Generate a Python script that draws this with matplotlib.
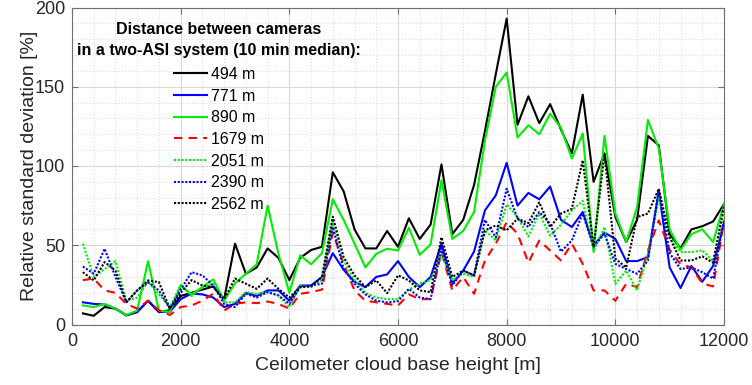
import numpy as np
import matplotlib
matplotlib.use("Agg")
import matplotlib.pyplot as plt
from matplotlib.ticker import MultipleLocator

plt.rcParams['font.family'] = ['Liberation Sans', 'DejaVu Sans']

# cloud base height classes [m]
height = list(range(200, 12001, 200))

# relative standard deviation [%] per camera distance
d494 = [7, 5.5, 11, 10, 5.7, 7.8, 15, 7.8, 9, 18, 20, 22, 24, 16, 51, 32, 36, 48, 42, 28,
        42, 47, 49, 96, 84, 60, 48, 48, 59, 49, 67, 54, 63, 101, 57, 66, 88, 122, 158, 193,
        126, 144, 127, 139, 123, 108, 145, 90, 108, 68, 52, 66, 119, 113, 57, 48, 60, 62, 65, 76]
d771 = [14, 13, 12.6, 10, 6, 8, 15, 8, 8, 16, 19.5, 19, 17, 11, 13, 20, 18, 21.5, 21.5, 15,
        24.6, 24.6, 30, 45, 34.5, 27, 23.6, 30, 31.6, 40, 30, 23.6, 30, 51, 26, 34, 46, 72, 81.5, 102,
        75, 83, 79, 87, 66, 61.5, 71, 50, 58, 54, 40, 40, 42.5, 84, 36, 23, 37, 27, 37, 64]
d890 = [12, 11, 13, 10, 6, 8.8, 40, 8.8, 7.8, 24.6, 19, 23.6, 28.5, 15, 26, 32, 38, 75, 44.6, 20,
        43.6, 38, 45, 79, 66, 51, 36, 44.6, 47.8, 46.7, 61, 44, 50.5, 91, 54, 59, 71, 116, 150, 159,
        118, 125.7, 120, 133, 124, 104.7, 120.5, 45.7, 119, 70, 52, 74, 129, 111, 60, 47, 57, 60, 52, 76]
d1679 = [28, 29, 21.5, 20, 13, 10, 15, 9, 6, 11, 12, 15, 19.4, 8.8, 13, 14, 13.5, 14.5, 13, 10,
         19.4, 20.4, 22, 58, 38, 21.5, 15, 14, 13, 12, 19, 16, 16, 45.7, 21.5, 30, 19.4, 40.4, 51, 64.6,
         57.3, 39, 53, 46.7, 40.4, 51, 38.3, 21.5, 21.5, 15, 25.7, 23.6, 46.7, 65.7, 47, 38, 36, 26, 24, 65]
d2051 = [51, 30, 35, 40, 15, 17, 27, 19, 11, 25, 18, 23.6, 25.7, 14, 14, 20.4, 19.4, 20.4, 18.3, 11,
         24.6, 23.6, 28, 65, 40, 28, 20, 17, 16, 16, 22, 26, 28, 44, 28, 32, 30, 59.4, 53, 75.8,
         67.8, 55.6, 70, 56, 63, 72, 78, 46.7, 61.5, 25.7, 34, 21.5, 44.6, 80, 55, 45.7, 45.7, 46.8, 40, 71]
d2390 = [36.6, 32, 47.8, 30, 14, 21.5, 26.7, 21.5, 10, 22, 33, 31, 24.6, 13, 11, 19.4, 17, 20.4, 18.3, 13,
         23.6, 24.6, 25.7, 61.5, 35, 25.7, 19, 15, 14, 14.7, 22.5, 17, 16, 48, 24.6, 34, 31, 66, 55, 85.7,
         66.8, 61.5, 71, 63.6, 46, 53, 70, 49, 57.3, 38.3, 35, 32, 40.4, 85, 45, 35, 36, 33, 29, 66]
d2562 = [33, 27.8, 39.4, 34, 14, 21.5, 27.8, 26.7, 10, 20, 28, 24.6, 23.6, 16, 29, 25.7, 22.5, 29, 22.5, 17,
         23.6, 24, 30, 68, 42.5, 31, 23.6, 27.8, 19.8, 31, 27.8, 21.5, 20.4, 55, 30, 34, 31, 59.4, 62.5, 59.4,
         66.8, 64, 77, 61.5, 70, 73, 103.6, 49, 107.8, 41.5, 36, 67.8, 70, 85.7, 55, 40.4, 40.4, 43, 39, 75]

labels = ['494 m', '771 m', '890 m', '1679 m', '2051 m', '2390 m', '2562 m']

fig = plt.figure(figsize=(7.52, 3.85), dpi=100)
ax = fig.add_axes([72/752, 1 - 324.5/385, 652/752, 317/385])

lw = 1.5
ax.plot(height, d494, color='black', lw=lw, label=labels[0])
ax.plot(height, d771, color='#0000ff', lw=lw, label=labels[1])
ax.plot(height, d890, color='#00ee00', lw=lw, label=labels[2])
ax.plot(height, d1679, color='#ff0000', lw=lw, ls=(0, (4, 3)), label=labels[3])
ax.plot(height, d2051, color='#00ee00', lw=lw, ls=(0, (1, 0.8)), label=labels[4])
ax.plot(height, d2390, color='#0000ff', lw=lw, ls=(0, (1, 0.8)), label=labels[5])
ax.plot(height, d2562, color='black', lw=lw, ls=(0, (1, 0.8)), label=labels[6])

ax.set_xlim(0, 12000)
ax.set_ylim(0, 200)
ax.xaxis.set_major_locator(MultipleLocator(2000))
ax.xaxis.set_minor_locator(MultipleLocator(400))
ax.yaxis.set_major_locator(MultipleLocator(50))
ax.yaxis.set_minor_locator(MultipleLocator(10))
ax.grid(which='major', color='#d9d9d9', lw=0.8)
ax.grid(which='minor', color='#d9d9d9', lw=0.7, ls=(0, (1, 2)))
ax.set_axisbelow(True)
ax.tick_params(which='major', direction='in', top=True, right=True, length=4,
               color='#707070', labelsize=13, labelcolor='#262626')
ax.tick_params(axis='x', pad=6)
ax.tick_params(axis='y', pad=5)
ax.tick_params(which='minor', length=0)
for s in ax.spines.values():
    s.set_color('#707070')
    s.set_linewidth(0.8)

ax.set_xlabel('Ceilometer cloud base height [m]', fontsize=14, color='#262626', labelpad=5)
ax.set_ylabel('Relative standard deviation [%]', fontsize=14, color='#262626', labelpad=-2)

fig.text(219/752, 1 - 29/385, 'Distance between cameras', fontsize=11.5, fontweight='bold',
         ha='center', va='center')
fig.text(219/752, 1 - 51/385, 'in a two-ASI system (10 min median):', fontsize=11.5, fontweight='bold',
         ha='center', va='center')

ax.legend(loc='upper left', bbox_to_anchor=(174/752, 1 - 67/385), bbox_transform=fig.transFigure,
          frameon=False, fontsize=11.4, handlelength=2.1, handletextpad=0.22,
          labelspacing=0.42, borderpad=0, borderaxespad=0)

fig.savefig('out.png', dpi=100)
